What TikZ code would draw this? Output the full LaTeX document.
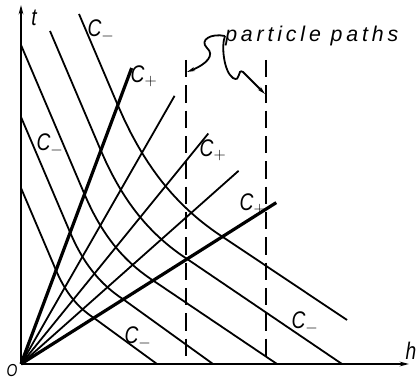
\documentclass[tikz,border=0pt]{standalone}
\usepackage{fontspec}
\setmainfont{Liberation Sans}
\newfontfamily\labfont[FakeStretch=0.8]{Liberation Sans}
\newfontfamily\ppfont[LetterSpace=18]{Liberation Sans}
\usetikzlibrary{arrows.meta}

\begin{document}
\begin{tikzpicture}[x=0.75pt,y=0.75pt,>=Stealth,
  thinline/.style={line width=1.35pt},
  thickline/.style={line width=2.4pt},
  ppath/.style={line width=1.3pt,dash pattern=on 13pt off 6pt},
  lbl/.style={font=\labfont\itshape\fontsize{18}{18}\selectfont,inner sep=0pt},
  declare function={kk(\s)=0.082+1.917*\s;}]
\useasboundingbox (-21,-18) rectangle (397,364);
% axes
\draw[thinline,-{Stealth[length=7pt,width=3.5pt]}](0,0)--(0,359);
\draw[thinline,-{Stealth[length=7pt,width=3.5pt]}](0,0)--(388,0);
\node[lbl] (t) at (13,346) {t};
\node[lbl] (h) at (390,13) {h};
\node[lbl,font=\labfont\itshape\fontsize{13}{13}\selectfont] (o) at (-9,-7) {O};
% C+ fan
\foreach \a/\l/\w in {69.5/316/thickline,60.2/309/thinline,50.9/297/thinline,41.6/291/thinline,32.3/302/thickline}
  \draw[\w](0,0)--(\a:\l);
% C- lines, straight outside the fan and bent inside it
\foreach \xa/\ta/\xe/\te in {58/350/326/44,29/333/321/0,0/319/256/0,0/247/192/0,0/176/136/0}{
  \pgfmathsetmacro\xone{(\ta+2.35*\xa)/(2.35+2.674)}
  \pgfmathsetmacro\tone{2.674*\xone}
  \draw[thinline](\xa,\ta)--(\xone,\tone)--plot[domain=0.3739:1.5818,samples=25,variable=\s]
    ({\s*\tone*(kk(0.3739)/kk(\s))^0.5216},{\tone*(kk(0.3739)/kk(\s))^0.5216})--(\xe,\te);
}
% particle paths
\draw[ppath](165,304)--(165,0);
\draw[ppath](245,304)--(245,0);
\node[font=\ppfont\itshape\fontsize{16}{16}\selectfont,anchor=west,inner sep=0pt] (pp) at (204,328) {particle paths};
\draw[thinline,-{Stealth[length=6pt,width=3pt]}](pp.west)..controls (190,331) and (178,324)..(186,316)
  ..controls (194,309) and (186,300)..(166,292);
\draw[thinline,-{Stealth[length=6pt,width=3pt]}](pp.west)..controls (200,318) and (203,292)..(212,286)
  ..controls (220,281) and (216,296)..(222,292)--(244,270);
% labels
\node[lbl] (cm1) at (80,333) {C$_-$};
\node[lbl] (cp1) at (123,288) {C$_+$};
\node[lbl] (cm2) at (29,219) {C$_-$};
\node[lbl] (cp2) at (192,214) {C$_+$};
\node[lbl] (cp3) at (232,160) {C$_+$};
\node[lbl] (cm3) at (117,26) {C$_-$};
\node[lbl] (cm4) at (284,41) {C$_-$};
\end{tikzpicture}
\end{document}
